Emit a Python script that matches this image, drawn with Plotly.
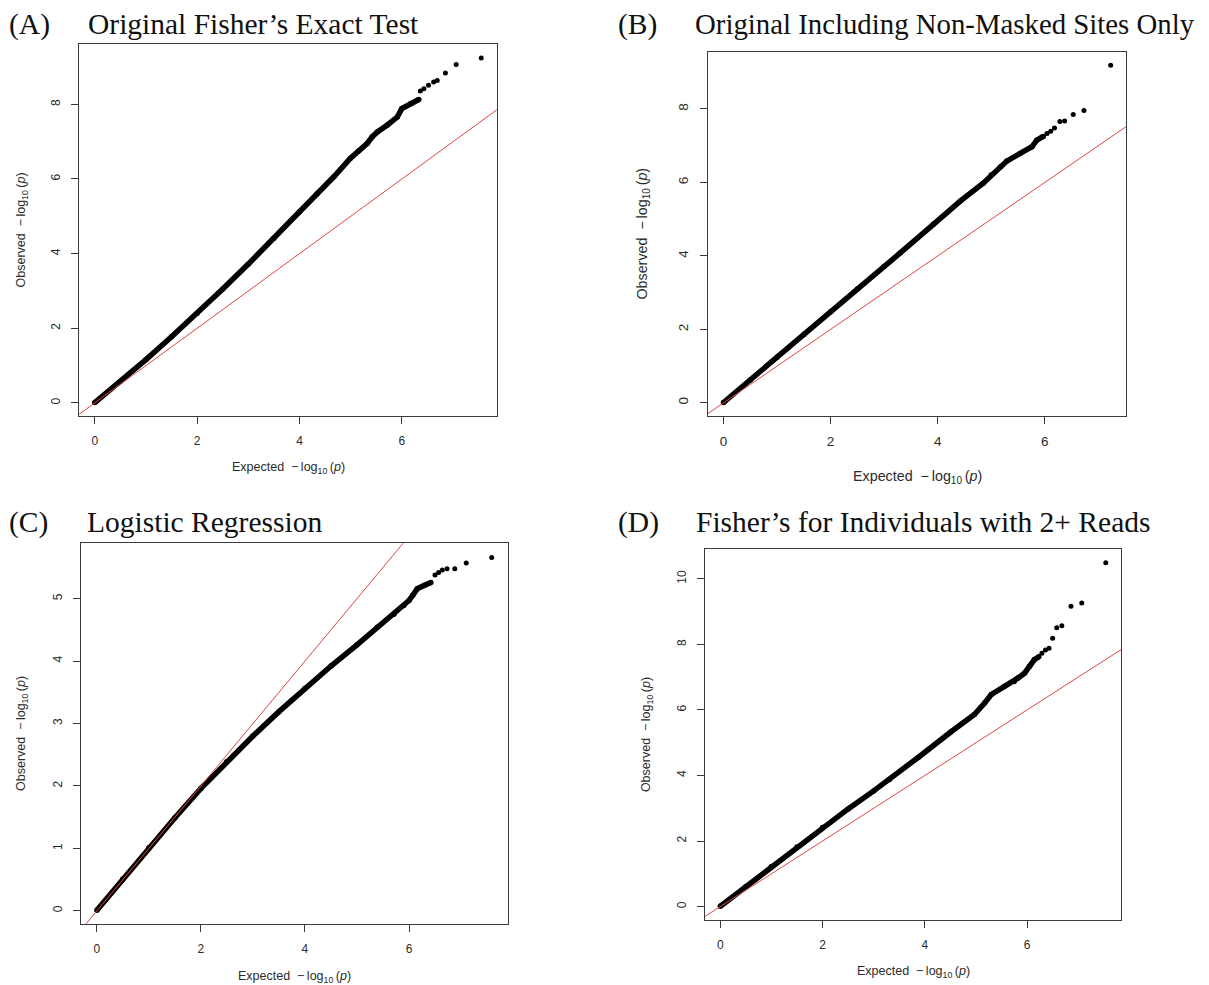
import plotly.graph_objects as go

# ---------------- data ----------------
# Panel A: Original Fisher's Exact Test
a_curve_x = [0.0, 0.5, 1.0, 1.5, 2.0, 2.5, 3.0, 3.5, 4.0, 4.34, 4.67, 4.99, 5.15, 5.32, 5.42, 5.52, 5.71, 5.91, 6.00, 6.17, 6.33]
a_curve_y = [0.01, 0.57, 1.16, 1.77, 2.40, 3.05, 3.72, 4.41, 5.12, 5.60, 6.06, 6.55, 6.75, 6.95, 7.13, 7.26, 7.44, 7.66, 7.89, 8.02, 8.13]
a_tail_x = [6.36, 6.43, 6.52, 6.62, 6.69, 6.85, 7.06, 7.55]
a_tail_y = [8.36, 8.42, 8.51, 8.60, 8.64, 8.84, 9.07, 9.24]

# Panel B: Original Including Non-Masked Sites Only
b_curve_x = [0.0, 0.5, 1.0, 1.5, 2.0, 2.5, 3.0, 3.30, 3.92, 4.42, 4.85, 5.00, 5.17, 5.29, 5.54, 5.76, 5.85, 5.97]
b_curve_y = [0.01, 0.62, 1.24, 1.86, 2.48, 3.10, 3.71, 4.08, 4.86, 5.49, 5.98, 6.20, 6.42, 6.58, 6.79, 6.97, 7.15, 7.25]
b_tail_x = [6.04, 6.11, 6.18, 6.28, 6.37, 6.53, 6.73, 7.23]
b_tail_y = [7.33, 7.39, 7.48, 7.66, 7.67, 7.85, 7.96, 9.19]

# Panel C: Logistic Regression
c_curve_x = [0.0, 0.5, 1.0, 1.5, 2.0, 2.5, 3.0, 3.5, 4.0, 4.5, 5.0, 5.39, 5.71, 5.90, 6.00, 6.07, 6.16, 6.29, 6.42]
c_curve_y = [0.01, 0.51, 1.01, 1.49, 1.96, 2.39, 2.80, 3.19, 3.56, 3.92, 4.26, 4.54, 4.75, 4.89, 4.97, 5.05, 5.16, 5.21, 5.26]
c_tail_x = [6.50, 6.57, 6.64, 6.73, 6.88, 7.10, 7.59]
c_tail_y = [5.38, 5.42, 5.46, 5.48, 5.48, 5.57, 5.66]

# Panel D: Fisher's for Individuals with 2+ Reads
d_curve_x = [0.0, 0.5, 1.0, 1.5, 2.0, 2.5, 3.0, 3.31, 3.87, 4.52, 4.97, 5.17, 5.30, 5.56, 5.75, 5.82, 5.95, 6.05, 6.14, 6.23]
d_curve_y = [0.01, 0.61, 1.22, 1.82, 2.41, 2.98, 3.53, 3.88, 4.55, 5.34, 5.86, 6.21, 6.47, 6.72, 6.87, 6.97, 7.12, 7.33, 7.53, 7.62]
d_tail_x = [6.29, 6.36, 6.43, 6.50, 6.58, 6.68, 6.86, 7.07, 7.54]
d_tail_y = [7.73, 7.83, 7.88, 8.19, 8.51, 8.57, 9.16, 9.26, 10.49]

panel_letters = ["(A)", "(B)", "(C)", "(D)"]
panel_titles = [
    "Original Fisher\u2019s Exact Test",
    "Original Including Non-Masked Sites Only",
    "Logistic Regression",
    "Fisher\u2019s for Individuals with 2+ Reads",
]
x_ticks = [[0, 2, 4, 6], [0, 2, 4, 6], [0, 2, 4, 6], [0, 2, 4, 6]]
y_ticks = [[0, 2, 4, 6, 8], [0, 2, 4, 6, 8], [0, 1, 2, 3, 4, 5], [0, 2, 4, 6, 8, 10]]
x_label = "Expected\u00a0\u00a0\u2212\u2009log<sub>10</sub>\u2009(<i>p</i>)"
y_label = "Observed\u00a0\u00a0\u2212\u2009log<sub>10</sub>\u2009(<i>p</i>)"

curves = [
    (a_curve_x, a_curve_y, a_tail_x, a_tail_y),
    (b_curve_x, b_curve_y, b_tail_x, b_tail_y),
    (c_curve_x, c_curve_y, c_tail_x, c_tail_y),
    (d_curve_x, d_curve_y, d_tail_x, d_tail_y),
]

# ---------------- layout geometry (pixels of the 1209x985 page) ----------------
PAGE_W, PAGE_H = 1209, 985
OFF = 8                      # default body margin of the html page
W, H = PAGE_W - OFF, PAGE_H - OFF
# plot box: left, right, top, bottom
boxes = [
    (79.3, 496.7, 44.3, 416.3),
    (708.0, 1126.2, 51.7, 416.0),
    (81.1, 507.5, 543.3, 924.3),
    (704.9, 1121.2, 549.0, 920.0),
]
tick_font_sizes = [12, 13.5, 12, 12]
label_font_sizes = [12.5, 14.3, 12.5, 12.5]
title_font_sizes = [29.5, 28.8, 29.5, 29.5]
# axis title positions: (x-title center y, y-title center x)
xtitle_y = [468, 476.7, 977.0, 971.7]
ytitle_x = [22.2, 642.7, 22.2, 646.6]
# panel title: (letter left x, title left x, cap-center y)
title_pos = [(8.4, 87.3, 24.2), (617.5, 694.4, 24.2), (8.4, 86.1, 522.4), (617.5, 695.1, 522.4)]

TICK_FONT = "Liberation Sans, Arial, sans-serif"
TITLE_FONT = "Liberation Serif, Times New Roman, serif"
TXT = "#2b2b2b"


def px_x(v):
    return (v - OFF) / W


def px_y(v):
    return 1 - (v - OFF) / H


def r_range(lo, hi):
    d = hi - lo
    return [lo - 0.04 * d, hi + 0.04 * d]


fig = go.Figure()
annotations = []
layout_axes = {}

for i, (cx, cy, tx, ty) in enumerate(curves):
    n = "" if i == 0 else str(i + 1)
    xa, ya = "x" + n, "y" + n
    allx = cx + tx
    ally = cy + ty
    xr = r_range(min(allx), max(allx))
    yr = r_range(min(ally), max(ally))

    # thick band of observed points
    fig.add_trace(go.Scatter(
        x=cx, y=cy, mode="lines+markers", xaxis=xa, yaxis=ya,
        line=dict(color="black", width=5.5), marker=dict(color="black", size=5.5),
        showlegend=False, hoverinfo="skip", cliponaxis=True,
    ))
    # separated tail points
    fig.add_trace(go.Scatter(
        x=tx, y=ty, mode="markers", xaxis=xa, yaxis=ya,
        marker=dict(color="black", size=5),
        showlegend=False, hoverinfo="skip",
    ))
    # y = x reference line
    lo = min(xr[0], yr[0])
    hi = max(xr[1], yr[1])
    fig.add_trace(go.Scatter(
        x=[lo, hi], y=[lo, hi], mode="lines", xaxis=xa, yaxis=ya,
        line=dict(color="rgb(222,70,70)", width=1),
        showlegend=False, hoverinfo="skip",
    ))

    l, r, t, b = boxes[i]
    fs = tick_font_sizes[i]
    common = dict(
        showline=True, mirror=True, linecolor="#3a3a3a", linewidth=1.3,
        ticks="outside", ticklen=7, tickwidth=1.2, tickcolor="#3a3a3a",
        showgrid=False, zeroline=False,
        tickfont=dict(family=TICK_FONT, size=fs, color=TXT),
        fixedrange=True,
    )
    layout_axes["xaxis" + n] = dict(
        common, domain=[px_x(l), px_x(r)], range=xr, anchor=ya,
        tickvals=x_ticks[i], ticktext=[str(v) for v in x_ticks[i]],
        ticklabelstandoff=6,
    )
    layout_axes["yaxis" + n] = dict(
        common, domain=[px_y(b), px_y(t)], range=yr, anchor=xa,
        tickvals=y_ticks[i], ticktext=[str(v) for v in y_ticks[i]],
        tickangle=-90, ticklabelstandoff=6,
    )

    lf = label_font_sizes[i]
    # axis titles
    annotations.append(dict(
        xref="paper", yref="paper", x=px_x((l + r) / 2), y=px_y(xtitle_y[i]),
        text=x_label, showarrow=False, xanchor="center", yanchor="middle",
        font=dict(family=TICK_FONT, size=lf, color=TXT),
    ))
    annotations.append(dict(
        xref="paper", yref="paper", x=px_x(ytitle_x[i]), y=px_y((t + b) / 2),
        text=y_label, showarrow=False, xanchor="center", yanchor="middle",
        textangle=-90, font=dict(family=TICK_FONT, size=lf, color=TXT),
    ))
    # panel titles
    lx, tx0, ty0 = title_pos[i]
    tf = title_font_sizes[i]
    annotations.append(dict(
        xref="paper", yref="paper", x=px_x(lx - 1.5), y=px_y(ty0),
        text=panel_letters[i], showarrow=False, xanchor="left", yanchor="middle",
        font=dict(family=TITLE_FONT, size=29.5, color="#111"),
    ))
    annotations.append(dict(
        xref="paper", yref="paper", x=px_x(tx0 - 1.5), y=px_y(ty0),
        text=panel_titles[i], showarrow=False, xanchor="left", yanchor="middle",
        font=dict(family=TITLE_FONT, size=tf, color="#111"),
    ))

fig.update_layout(
    width=W, height=H, autosize=False,
    margin=dict(l=0, r=0, t=0, b=0, pad=0),
    paper_bgcolor="white", plot_bgcolor="white",
    annotations=annotations,
    **layout_axes,
)

fig.write_html("out.html")
